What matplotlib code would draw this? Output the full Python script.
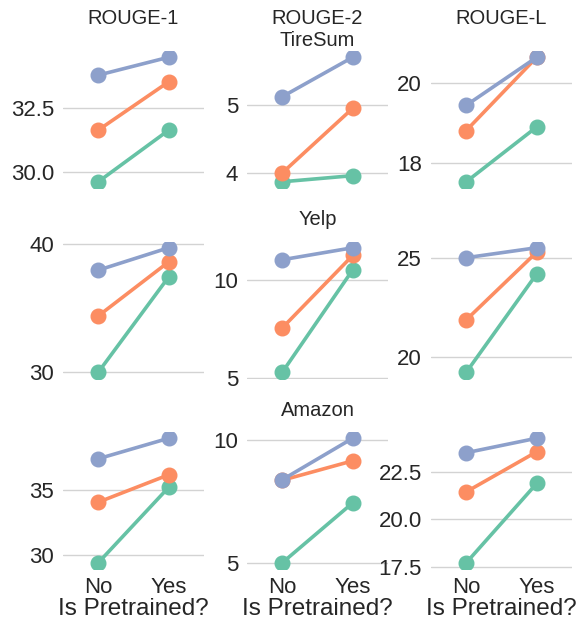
import matplotlib
matplotlib.use("Agg")
import matplotlib.pyplot as plt
import seaborn as sns

sns.set_theme(style="whitegrid")
plt.rcParams['font.family'] = ['Liberation Sans', 'DejaVu Sans']

# ---------------- data ----------------
metrics = ["ROUGE-1", "ROUGE-2", "ROUGE-L"]
datasets = ["TireSum", "Yelp", "Amazon"]
pretrained = ["No", "Yes"]
series_names = ["Model A", "Model B", "Model C"]
series_colors = ["#66c2a5", "#fc8d62", "#8da0cb"]

# values per dataset, per series: [ROUGE-1, ROUGE-2, ROUGE-L] x [No, Yes]
tiresum_a = [[29.63, 31.65], [3.87, 3.96], [17.54, 18.91]]
tiresum_b = [[31.65, 33.54], [4.00, 4.95], [18.82, 20.65]]
tiresum_c = [[33.80, 34.50], [5.12, 5.70], [19.45, 20.65]]

yelp_a = [[30.00, 37.44], [5.31, 10.51], [19.25, 24.19]]
yelp_b = [[34.39, 38.61], [7.56, 11.24], [21.88, 25.28]]
yelp_c = [[37.96, 39.71], [11.02, 11.63], [25.00, 25.50]]

amazon_a = [[29.44, 35.25], [5.00, 7.44], [17.73, 21.89]]
amazon_b = [[34.10, 36.21], [8.36, 9.15], [21.45, 23.55]]
amazon_c = [[37.44, 39.02], [8.38, 10.07], [23.50, 24.26]]

data = [[tiresum_a, tiresum_b, tiresum_c],
        [yelp_a, yelp_b, yelp_c],
        [amazon_a, amazon_b, amazon_c]]

# y tick values and labels per panel
yticks = [[[30.0, 32.5], [4, 5], [18, 20]],
          [[30, 40], [5, 10], [20, 25]],
          [[30, 35], [5, 10], [17.5, 20.0, 22.5]]]
ytick_labels = [[["30.0", "32.5"], ["4", "5"], ["18", "20"]],
                [["30", "40"], ["5", "10"], ["20", "25"]],
                [["30", "35"], ["5", "10"], ["17.5", "20.0", "22.5"]]]

# ---------------- layout ----------------
W, H = 582, 624
fig = plt.figure(figsize=(W / 100, H / 100), dpi=100)

ax_left = [63, 247, 431]
ax_top = [51, 241.5, 432]
ax_w, ax_h = 141, 137

def px(v):
    return v * 72 / 100.0  # pixels -> points

for r in range(3):
    for c in range(3):
        ax = fig.add_axes([ax_left[c] / W, 1 - (ax_top[r] + ax_h) / H, ax_w / W, ax_h / H])
        for s in range(3):
            ax.plot(pretrained, data[r][s][c], color=series_colors[s],
                    lw=2.6, marker="o", markersize=10.5, solid_capstyle="round",
                    label=series_names[s], zorder=3 + s)
        ax.set_xlim(-0.5, 1.5)
        ax.margins(y=0.05)
        ax.set_yticks(yticks[r][c])
        ax.set_yticklabels(ytick_labels[r][c])
        ax.grid(axis="x", visible=False)
        ax.grid(axis="y", color="#d3d3d3", lw=1.0)
        for sp in ax.spines.values():
            sp.set_visible(False)
        ax.tick_params(axis="y", labelsize=16, pad=px(9), length=0, colors="#262626")
        ax.tick_params(axis="x", labelsize=16, pad=px(8), length=0, colors="#262626")
        if r < 2:
            ax.tick_params(axis="x", labelbottom=False)
        else:
            ax.set_xlabel("Is Pretrained?", fontsize=17.5, labelpad=0, color="#262626")

        # titles
        if r == 0:
            ax.annotate(metrics[c], xy=(0.5, 1), xycoords="axes fraction",
                        xytext=(0, px(26.5)), textcoords="offset points",
                        ha="center", va="baseline", fontsize=14.5, color="#262626")
        if c == 1:
            off = 4.5 if r == 0 else 16.5
            ax.annotate(datasets[r], xy=(0.5, 1), xycoords="axes fraction",
                        xytext=(0, px(off)), textcoords="offset points",
                        ha="center", va="baseline", fontsize=14.5, color="#262626")

fig.savefig("out.png", dpi=100)
